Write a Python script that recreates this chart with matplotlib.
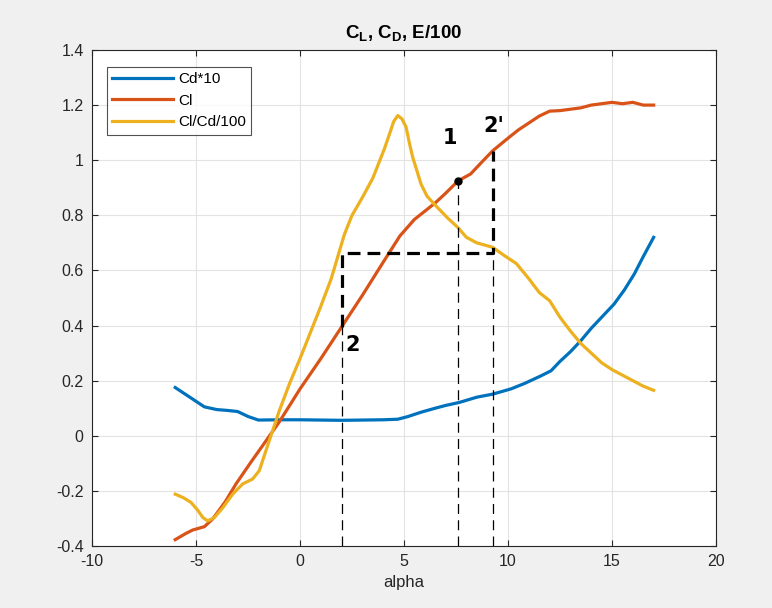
import matplotlib
matplotlib.use("Agg")
import matplotlib.pyplot as plt

plt.rcParams['font.family'] = ['Liberation Sans', 'DejaVu Sans']
plt.rcParams['mathtext.fontset'] = 'custom'
plt.rcParams['mathtext.rm'] = 'Liberation Sans:bold'
plt.rcParams['mathtext.bf'] = 'Liberation Sans:bold'
plt.rcParams['axes.unicode_minus'] = False

# ---- data ----
alpha_cl = [-6.0, -5.5, -5.16, -4.6, -4.2, -3.6, -3.08, -2.4, -1.8, -1.0, 0.0, 1.0,
            2.0, 3.0, 4.0, 4.8, 5.5, 6.5, 7.0, 7.6, 8.2, 8.7, 9.26, 10.0, 10.5, 11.0,
            11.5, 12.0, 12.5, 13.0, 13.5, 14.0, 14.5, 15.0, 15.5, 16.0, 16.5, 17.0]
cl = [-0.377, -0.355, -0.342, -0.33, -0.302, -0.24, -0.175, -0.1, -0.036, 0.05, 0.17,
      0.28, 0.395, 0.51, 0.63, 0.725, 0.785, 0.845, 0.88, 0.925, 0.95, 0.99, 1.034,
      1.08, 1.11, 1.135, 1.16, 1.178, 1.18, 1.185, 1.19, 1.2, 1.205, 1.21, 1.205,
      1.21, 1.2, 1.2]

alpha_e = [-6.0, -5.6, -5.24, -4.9, -4.68, -4.44, -4.12, -3.7, -3.24, -2.76, -2.28,
           -1.96, -1.48, -1.0, -0.5, 0.0, 0.5, 1.0, 1.5, 2.13, 2.5, 3.0, 3.5, 4.05,
           4.3, 4.5, 4.7, 4.9, 5.1, 5.25, 5.42, 5.82, 6.1, 6.46, 7.1, 7.6, 8.0, 8.5,
           9.26, 9.8, 10.4, 11.0, 11.5, 12.0, 12.5, 13.0, 13.5, 14.0, 14.5, 15.0,
           15.5, 16.0, 16.5, 17.0]
e100 = [-0.212, -0.225, -0.242, -0.272, -0.296, -0.309, -0.297, -0.26, -0.212, -0.175,
        -0.157, -0.127, -0.018, 0.09, 0.19, 0.28, 0.375, 0.47, 0.57, 0.73, 0.8,
        0.865, 0.935, 1.04, 1.095, 1.14, 1.162, 1.15, 1.12, 1.065, 1.01, 0.913,
        0.87, 0.84, 0.79, 0.755, 0.72, 0.7, 0.684, 0.655, 0.625, 0.57, 0.52, 0.49,
        0.43, 0.38, 0.335, 0.3, 0.265, 0.24, 0.22, 0.2, 0.18, 0.165]

alpha_cd = [-6.0, -5.5, -5.0, -4.6, -4.0, -3.5, -3.0, -2.5, -2.0, -1.0, 0.0, 1.0,
            2.0, 3.0, 4.0, 4.7, 5.2, 5.8, 6.5, 7.0, 7.66, 8.5, 9.26, 10.14, 10.8,
            11.6, 12.07, 12.5, 13.0, 13.5, 14.0, 14.5, 15.1, 15.6, 16.07, 16.5, 17.0]
cd10 = [0.175, 0.15, 0.125, 0.105, 0.095, 0.092, 0.088, 0.07, 0.057, 0.058, 0.058,
        0.057, 0.056, 0.057, 0.058, 0.06, 0.07, 0.085, 0.1, 0.11, 0.121, 0.14,
        0.151, 0.17, 0.19, 0.218, 0.236, 0.27, 0.305, 0.345, 0.39, 0.43, 0.478,
        0.53, 0.587, 0.65, 0.72]

# annotation points
p1 = (7.6, 0.925)
p2 = (2.0, 0.395)
p2b = (9.26, 1.034)
level = 0.662

x_ticks = [-10, -5, 0, 5, 10, 15, 20]
y_ticks = [-0.4, -0.2, 0, 0.2, 0.4, 0.6, 0.8, 1, 1.2, 1.4]
y_ticklabels = ['-0.4', '-0.2', '0', '0.2', '0.4', '0.6', '0.8', '1', '1.2', '1.4']

# ---- figure ----
fig = plt.figure(figsize=(7.72, 6.08), dpi=100, facecolor='#f0f0f0')
ax = fig.add_axes([0.1192, 0.102, 0.8083, 0.8158])
ax.set_facecolor('white')

lw = 2.3
ax.plot(alpha_cd, cd10, color='#0072BD', lw=lw, label='Cd*10', solid_joinstyle='round')
ax.plot(alpha_cl, cl, color='#D95319', lw=lw, label='Cl', solid_joinstyle='round')
ax.plot(alpha_e, e100, color='#EDB120', lw=lw, label='Cl/Cd/100', solid_joinstyle='round')

ymin, ymax = -0.4, 1.4
# thin dashed verticals
for (xa, ya) in [p2, p1]:
    ax.plot([xa, xa], [ymin, ya], color='black', lw=0.9, ls=(0, (8, 5)))
ax.plot([p2b[0], p2b[0]], [ymin, level], color='black', lw=0.9, ls=(0, (8, 5)))
# thick dashed box
ax.plot([p2[0], p2[0], p2b[0], p2b[0]], [p2[1], level, level, p2b[1]],
        color='black', lw=2.3, ls=(0, (4, 2.2)))
ax.plot([p1[0]], [p1[1]], 'o', color='black', ms=5)

ax.text(7.2, 1.08, '1', fontsize=15, fontweight='bold', ha='center', va='center',
        family=['DejaVu Sans'])
ax.text(9.3, 1.125, "2'", fontsize=15, fontweight='bold', ha='center', va='center',
        family=['DejaVu Sans'])
ax.text(2.55, 0.33, '2', fontsize=15, fontweight='bold', ha='center', va='center',
        family=['DejaVu Sans'])

ax.set_xlim(-10, 20)
ax.set_ylim(ymin, ymax)
ax.set_xticks(x_ticks)
ax.set_yticks(y_ticks)
ax.set_yticklabels(y_ticklabels)
ax.grid(True, color='#e3e3e3', lw=0.8)
ax.set_axisbelow(True)
ax.tick_params(direction='in', top=True, right=True, length=4, colors='#262626',
               labelsize=11.5, labelcolor='#262626', pad=6)
for s in ax.spines.values():
    s.set_color('#262626')
    s.set_linewidth(0.8)

ax.set_xlabel('alpha', fontsize=12, color='#262626', labelpad=4)
ax.set_title(r'C$_{\bf L}$, C$_{\bf D}$, E/100', fontsize=13.5, fontweight='bold',
             color='black', pad=8)

leg = ax.legend(loc='upper left', bbox_to_anchor=(0.024, 0.966), fontsize=11,
                frameon=True, fancybox=False, edgecolor='#262626', handlelength=4.0,
                borderpad=0.35, labelspacing=0.5, handletextpad=0.3, borderaxespad=0)
leg.get_frame().set_linewidth(0.8)

fig.savefig('out.png', dpi=100, facecolor=fig.get_facecolor())
